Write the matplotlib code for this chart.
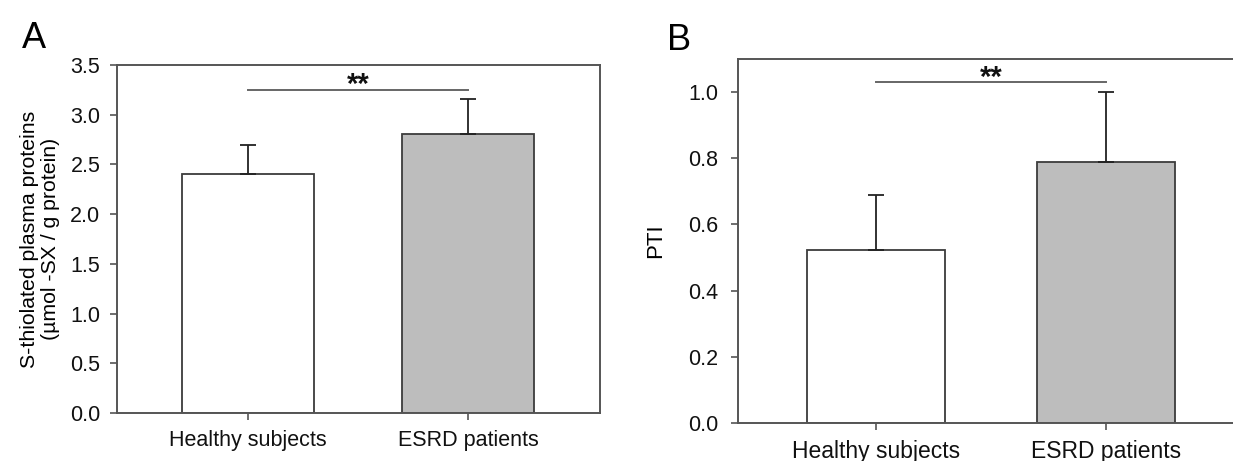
import matplotlib
matplotlib.use("Agg")
import matplotlib.pyplot as plt
import numpy as np

plt.rcParams['font.family'] = ['Liberation Sans', 'DejaVu Sans']

categories = ["Healthy subjects", "ESRD patients"]
# Panel A
a_means = [2.40, 2.81]
a_err = [0.30, 0.35]
a_sig_y = 3.25
a_yticks = [0.0, 0.5, 1.0, 1.5, 2.0, 2.5, 3.0, 3.5]
# Panel B
b_means = [0.523, 0.79]
b_err = [0.167, 0.21]
b_sig_y = 1.03
b_yticks = [0.0, 0.2, 0.4, 0.6, 0.8, 1.0]

bar_colors = ["white", "#bdbdbd"]
edge = "#3c3c3c"
spine_col = "#555555"

fig = plt.figure(figsize=(12.33, 4.61), dpi=100)

def style(ax, ylab_fs, xlab_fs, ypad):
    for s in ax.spines.values():
        s.set_color(spine_col)
        s.set_linewidth(1.4)
    ax.tick_params(axis='both', direction='out', length=5, width=1.2, color=spine_col,
                   labelcolor='#111111')
    ax.tick_params(axis='y', labelsize=ylab_fs, pad=ypad)
    ax.tick_params(axis='x', labelsize=xlab_fs, pad=7)

def panel(ax, means, errs, sig_y, yticks, ylim, xlim, star_off):
    x = np.arange(len(categories))
    ax.bar(x, means, width=0.6, color=bar_colors, edgecolor=edge, linewidth=1.3, zorder=2)
    ax.errorbar(x, means, yerr=[np.zeros(len(errs)), errs], fmt='none', ecolor='#222222',
                elinewidth=1.3, capsize=5.5, capthick=1.3, zorder=3)
    ax.plot([x[0], x[1]], [sig_y, sig_y], color='#666666', lw=1.4)
    ax.annotate("**", xy=((x[0] + x[1]) / 2, sig_y), xytext=(0, star_off),
                textcoords='offset points', ha='center', va='baseline',
                fontsize=21, fontweight='bold', color='#111111')
    ax.set_xlim(*xlim)
    ax.set_ylim(*ylim)
    ax.set_yticks(yticks)
    ax.set_yticklabels([f"{t:.1f}" for t in yticks])
    ax.set_xticks(x)
    ax.set_xticklabels(categories)

axA = fig.add_axes([117/1233, 48/461, 483/1233, 348/461])
panel(axA, a_means, a_err, a_sig_y, a_yticks, (0, 3.5), (-0.595, 1.6), -2.5)
style(axA, 15.5, 15.5, 7)
axA.set_ylabel("S-thiolated plasma proteins\n(\u00b5mol -SX / g protein)", fontsize=15.3,
               labelpad=7, linespacing=1.15)

axB = fig.add_axes([738/1233, 38/461, 502/1233, 364/461])
panel(axB, b_means, b_err, b_sig_y, b_yticks, (0, 1.1), (-0.6, 1.583), -2.5)
style(axB, 15.5, 16.5, 9)
axB.set_ylabel("PTI", fontsize=16, labelpad=16)

fig.text(22/1233, 1 - 48/461, "A", fontsize=26, ha='left', va='baseline')
fig.text(667/1233, 1 - 50/461, "B", fontsize=26, ha='left', va='baseline')

fig.savefig("out.png", dpi=100)
